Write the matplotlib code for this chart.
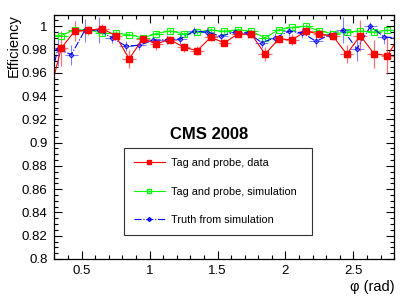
import numpy as np
import matplotlib
matplotlib.use("Agg")
import matplotlib.pyplot as plt
from matplotlib.ticker import MultipleLocator
from matplotlib.lines import Line2D

plt.rcParams['font.family'] = ['Liberation Sans', 'DejaVu Sans']

# bin centres in phi (rad), first and last bins lie just outside the frame
phi = [0.25, 0.35, 0.45, 0.55, 0.65, 0.75, 0.85, 0.95, 1.05, 1.15, 1.25, 1.35, 1.45, 1.55,
       1.65, 1.75, 1.85, 1.95, 2.05, 2.15, 2.25, 2.35, 2.45, 2.55, 2.65, 2.75, 2.85]
phi_truth = [p - 0.025 for p in phi]
half_bin = 0.05

# tag and probe, data
eff_data = [0.935, 0.981, 0.996, 0.9965, 0.998, 0.992, 0.972, 0.989, 0.985, 0.9885, 0.982,
            0.979, 0.9905, 0.9857, 0.9934, 0.993, 0.976, 0.989, 0.9885, 0.9957, 0.9934,
            0.9914, 0.976, 0.992, 0.9765, 0.9747, 0.994]
err_data = [0.010, 0.015, 0.0086, 0.004, 0.004, 0.003, 0.008, 0.003, 0.005, 0.003, 0.004,
            0.004, 0.003, 0.003, 0.002, 0.003, 0.006, 0.003, 0.005, 0.003, 0.003, 0.003,
            0.008, 0.013, 0.012, 0.016, 0.010]

# tag and probe, simulation
eff_sim = [0.992, 0.992, 0.997, 0.997, 0.994, 0.994, 0.9928, 0.990, 0.9937, 0.996, 0.9934,
           0.995, 0.9966, 0.9957, 0.997, 0.9957, 0.990, 0.997, 0.999, 1.0, 0.996, 0.9934,
           0.995, 0.996, 0.995, 0.9966, 0.996]
err_sim = [0.0015, 0.0015, 0.0015, 0.0015, 0.0015, 0.0015, 0.0015, 0.0015, 0.0015, 0.0015,
           0.0015, 0.0015, 0.0015, 0.0015, 0.0015, 0.0015, 0.0015, 0.0015, 0.0015, 0.0015,
           0.0015, 0.0015, 0.0015, 0.0015, 0.0015, 0.0015, 0.0015]

# truth from simulation
eff_truth = [0.93, 0.9805, 0.9756, 0.9966, 0.9966, 0.990, 0.983, 0.9836, 0.988, 0.9885,
             0.989, 0.9957, 0.995, 0.9914, 0.995, 0.9943, 0.986, 0.990, 0.9957, 0.9943,
             0.987, 0.9928, 0.9966, 0.9805, 1.0, 0.9908, 0.99]
err_truth = [0.010, 0.015, 0.0086, 0.010, 0.011, 0.004, 0.004, 0.004, 0.004, 0.004, 0.004,
             0.004, 0.004, 0.004, 0.004, 0.004, 0.005, 0.004, 0.004, 0.004, 0.005, 0.004,
             0.011, 0.010, 0.004, 0.006, 0.006]

red = '#ff0000'
green = '#00ff00'
blue = '#0000ff'

fig = plt.figure(figsize=(4.15, 2.98), dpi=100)
ax = fig.add_axes([0.131, 0.131, 0.819, 0.820])

ax.errorbar(phi, eff_sim, yerr=err_sim, xerr=half_bin, color=green, lw=0.8,
            ecolor=green, elinewidth=0.8, marker='s', ms=4.3, mfc='none', mec=green,
            mew=0.8, capsize=0)
ax.errorbar(phi_truth, eff_truth, yerr=err_truth, xerr=half_bin, color=blue, lw=0.8,
            ls='-.', ecolor=(0.3, 0.3, 1.0, 0.7), elinewidth=0.8, marker='D', ms=2.4,
            mfc='none', mec=blue, mew=0.7, capsize=0)
ax.errorbar(phi, eff_data, yerr=err_data, xerr=half_bin, color=red, lw=0.8,
            ecolor=(1.0, 0.2, 0.2, 0.7), elinewidth=0.9, marker='s', ms=4.3, mfc=red,
            mec=red, capsize=0)

ax.set_xlim(0.3, 2.8)
ax.set_ylim(0.8, 1.01)
ax.xaxis.set_major_locator(MultipleLocator(0.5))
ax.xaxis.set_minor_locator(MultipleLocator(0.1))
ax.yaxis.set_major_locator(MultipleLocator(0.02))
ax.yaxis.set_minor_locator(MultipleLocator(0.005))
ax.set_yticks([0.8, 0.82, 0.84, 0.86, 0.88, 0.9, 0.92, 0.94, 0.96, 0.98, 1.0])
ax.set_yticklabels(['0.8', '0.82', '0.84', '0.86', '0.88', '0.9', '0.92', '0.94',
                    '0.96', '0.98', '1'])
ax.set_xticks([0.5, 1, 1.5, 2, 2.5])
ax.set_xticklabels(['0.5', '1', '1.5', '2', '2.5'])
ax.tick_params(which='both', direction='in', top=True, right=True, labelsize=9.5,
               width=0.8)
ax.tick_params(which='major', length=6)
ax.tick_params(which='minor', length=3)
ax.tick_params(axis='y', pad=5)
ax.tick_params(axis='x', pad=4)
for s in ax.spines.values():
    s.set_linewidth(0.9)

ax.set_ylabel('Efficiency', fontsize=10.5, loc='top', labelpad=0.5)
ax.set_xlabel('\u03c6 (rad)', fontsize=10.5, loc='right', labelpad=2.5)

ax.text(0.456, 0.51, 'CMS 2008', transform=ax.transAxes, ha='center', va='center',
        fontsize=12, fontweight='bold')

handles = [
    Line2D([], [], color=red, lw=0.8, marker='s', ms=3.5, mfc=red, mec=red),
    Line2D([], [], color=green, lw=0.8, marker='s', ms=3.5, mfc='none', mec=green),
    Line2D([], [], color=blue, lw=0.8, ls='-.', marker='D', ms=2.0, mfc='none', mec=blue),
]
labels = ['Tag and probe, data', 'Tag and probe, simulation', 'Truth from simulation']
leg = ax.legend(handles, labels, loc='upper left', bbox_to_anchor=(0.205, 0.0, 0.553, 0.453),
                mode='expand', fontsize=7.8, handlelength=2.9, handletextpad=0.6,
                labelspacing=1.73, borderpad=0.88, borderaxespad=0, fancybox=False,
                framealpha=1, edgecolor='#333333')
leg.get_frame().set_linewidth(0.8)

fig.savefig('out.png', dpi=100)
